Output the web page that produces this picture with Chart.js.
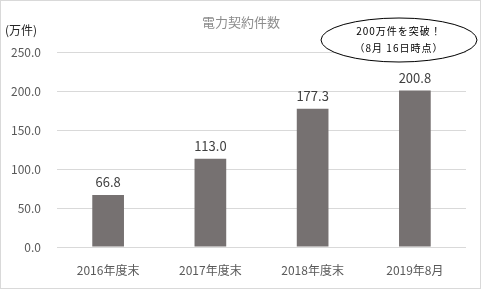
<!DOCTYPE html>
<html>
<head>
<meta charset="utf-8">
<script src="https://cdn.jsdelivr.net/npm/chart.js@4"></script>
<style>
  html, body { margin: 0; padding: 0; background: #fff; }
  #wrap { position: relative; width: 481px; height: 289px; box-sizing: border-box; border: 1px solid #d9d9d9; }
  canvas { display: block; }
</style>
</head>
<body>
<div id="wrap"><canvas id="chart" width="479" height="287"></canvas></div>
<script>
// Chart data
const categories = ['2016年度末', '2017年度末', '2018年度末', '2019年8月'];
const contracts = [66.8, 113.0, 177.3, 200.8];
const yTicks = [0, 50, 100, 150, 200, 250];
const titleText = '電力契約件数';
const unitText = '(万件)';
const noteLines = ['200万件を突破！', '（8月 16日時点）'];

const jpFont = '"Noto Sans CJK JP", "Noto Sans", sans-serif';

// Draws title, unit label, value labels and the callout ellipse
const decorations = {
  id: 'decorations',
  afterDatasetsDraw(chart) {
    const ctx = chart.ctx;
    ctx.save();

    // title
    ctx.fillStyle = '#8c8c8c';
    ctx.font = '13px ' + jpFont;
    ctx.textAlign = 'center';
    ctx.textBaseline = 'middle';
    ctx.fillText(titleText, 240, 21);

    // unit
    ctx.fillStyle = '#262626';
    ctx.font = '12px ' + jpFont;
    ctx.textAlign = 'left';
    ctx.fillText(unitText, 4, 29);

    // value labels above bars
    const meta = chart.getDatasetMeta(0);
    ctx.fillStyle = '#404040';
    ctx.font = '13px ' + jpFont;
    ctx.textAlign = 'center';
    ctx.textBaseline = 'bottom';
    meta.data.forEach((bar, i) => {
      ctx.fillText(contracts[i].toFixed(1), bar.x, bar.y - 6);
    });

    // callout ellipse
    ctx.beginPath();
    ctx.ellipse(398, 39, 78, 22, 0, 0, Math.PI * 2);
    ctx.fillStyle = '#ffffff';
    ctx.fill();
    ctx.lineWidth = 1;
    ctx.strokeStyle = '#000000';
    ctx.stroke();

    ctx.fillStyle = '#000000';
    ctx.font = '10px ' + jpFont;
    ctx.textBaseline = 'middle';
    ctx.letterSpacing = '1px';
    ctx.fillText(noteLines[0], 398, 30);
    ctx.fillText(noteLines[1], 398, 47);
    ctx.restore();
  }
};

const ctx = document.getElementById('chart').getContext('2d');
new Chart(ctx, {
  type: 'bar',
  data: {
    labels: categories,
    datasets: [{
      data: contracts,
      backgroundColor: '#767171',
      borderWidth: 0,
      barPercentage: 0.62,
      categoryPercentage: 0.5
    }]
  },
  options: {
    responsive: false,
    animation: false,
    layout: { padding: { top: 51, right: 14, left: 0, bottom: 0 } },
    plugins: {
      legend: { display: false },
      tooltip: { enabled: false }
    },
    scales: {
      x: {
        grid: { display: false },
        border: { display: false },
        ticks: {
          color: '#595959',
          font: { family: jpFont, size: 12 },
          padding: 8
        },
        afterFit(scale) { scale.height = 41; }
      },
      y: {
        min: 0,
        max: 250,
        afterBuildTicks(scale) { scale.ticks = yTicks.map(v => ({ value: v })); },
        grid: { color: '#d9d9d9', drawTicks: false },
        border: { display: false },
        ticks: {
          color: '#595959',
          font: { family: jpFont, size: 12 },
          padding: 16,
          callback: v => v.toFixed(1)
        },
        afterFit(scale) { scale.width = 56; }
      }
    }
  },
  plugins: [decorations]
});
</script>
</body>
</html>
